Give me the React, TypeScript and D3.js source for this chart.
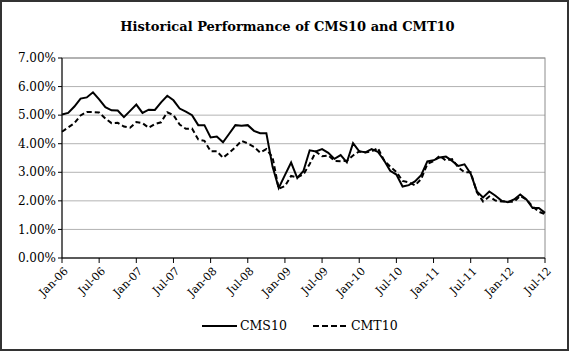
import * as d3 from "d3";
import React, { useEffect } from "react";

// monthly values, Jan-06 .. Jul-12 (percent)
const cms10 = [
  5.02, 5.08, 5.3, 5.58, 5.62, 5.8, 5.55, 5.28, 5.17, 5.16, 4.93, 5.15,
  5.37, 5.08, 5.19, 5.18, 5.45, 5.68, 5.52, 5.23, 5.12, 5.0, 4.65, 4.65,
  4.22, 4.25, 4.05, 4.35, 4.65, 4.63, 4.65, 4.45, 4.37, 4.37, 3.2, 2.45,
  2.9, 3.34, 2.8, 3.05, 3.77, 3.73, 3.81, 3.68, 3.47, 3.6, 3.35, 4.02,
  3.73, 3.7, 3.81, 3.72, 3.42, 3.05, 2.92, 2.5, 2.55, 2.68, 2.9, 3.38,
  3.42, 3.52, 3.55, 3.4, 3.22, 3.28, 2.95, 2.33, 2.12, 2.33, 2.18, 2.0,
  1.95, 2.05, 2.22, 2.05, 1.75, 1.75, 1.58,
];
const cmt10 = [
  4.42, 4.57, 4.72, 4.99, 5.11, 5.11, 5.09, 4.88, 4.72, 4.73, 4.6, 4.56,
  4.76, 4.72, 4.56, 4.69, 4.75, 5.1, 5.0, 4.67, 4.52, 4.53, 4.15, 4.1,
  3.74, 3.74, 3.51, 3.68, 3.88, 4.1, 4.01, 3.89, 3.69, 3.81, 3.53, 2.42,
  2.52, 2.87, 2.82, 2.93, 3.29, 3.72, 3.56, 3.59, 3.4, 3.39, 3.4, 3.59,
  3.73, 3.69, 3.73, 3.85, 3.42, 3.2, 3.01, 2.7, 2.65, 2.54, 2.76, 3.29,
  3.39, 3.58, 3.41, 3.46, 3.17, 3.0, 3.0, 2.3, 1.98, 2.15, 2.01, 1.98,
  1.97, 1.97, 2.17, 2.05, 1.8, 1.62, 1.53,
];
const xTickLabels = [
  "Jan-06", "Jul-06", "Jan-07", "Jul-07", "Jan-08", "Jul-08", "Jan-09",
  "Jul-09", "Jan-10", "Jul-10", "Jan-11", "Jul-11", "Jan-12", "Jul-12",
];
const yTicks = [0, 1, 2, 3, 4, 5, 6, 7];

const width = 569;
const height = 351;
const margin = { top: 58, right: 24, bottom: 93, left: 62 };
const font = "'DejaVu Serif', serif";

const App = () => {
  useEffect(() => {
    document.body.style.margin = "0";
  }, []);

  const innerWidth = width - margin.left - margin.right;
  const innerHeight = height - margin.top - margin.bottom;

  const x = d3.scaleLinear().domain([0, cms10.length - 1]).range([0, innerWidth]);
  const y = d3.scaleLinear().domain([0, 7]).range([innerHeight, 0]);

  const line = d3
    .line<number>()
    .x((d, i) => x(i))
    .y((d) => y(d));

  return (
    <svg width={width} height={height} style={{ display: "block", background: "#fff" }}>
      <rect x={1} y={1} width={width - 2} height={height - 2} fill="#fff" stroke="#333" strokeWidth={2} />
      <text
        x={width / 2 + 3}
        y={31}
        textAnchor="middle"
        fontFamily={font}
        fontWeight="bold"
        fontSize={13}
      >
        Historical Performance of CMS10 and CMT10
      </text>
      <g transform={`translate(${margin.left},${margin.top})`}>
        {/* grid */}
        {yTicks.map((t) => (
          <line key={t} x1={0} x2={innerWidth} y1={y(t)} y2={y(t)} stroke="#b3b3b3" strokeWidth={1} />
        ))}
        <rect x={0} y={0} width={innerWidth} height={innerHeight} fill="none" stroke="#8c8c8c" strokeWidth={1} />
        {/* y axis */}
        <line x1={0} x2={0} y1={0} y2={innerHeight} stroke="#000" />
        {yTicks.map((t) => (
          <g key={t}>
            <line x1={-4} x2={0} y1={y(t)} y2={y(t)} stroke="#000" />
            <text x={-6} y={y(t)} dy="0.35em" textAnchor="end" fontFamily={font} fontSize={12}>
              {t.toFixed(2)}%
            </text>
          </g>
        ))}
        {/* x axis */}
        <line x1={0} x2={innerWidth} y1={innerHeight} y2={innerHeight} stroke="#000" />
        {xTickLabels.map((lab, k) => (
          <g key={lab} transform={`translate(${x(k * 6)},${innerHeight})`}>
            <line y1={0} y2={5} stroke="#000" />
            <text
              transform="translate(4,11) rotate(-45)"
              textAnchor="end"
              fontFamily={font}
              fontSize={11}
              dy="0.35em"
            >
              {lab}
            </text>
          </g>
        ))}
        <path d={line(cmt10) || ""} fill="none" stroke="#000" strokeWidth={2} strokeDasharray="5,3" />
        <path d={line(cms10) || ""} fill="none" stroke="#000" strokeWidth={2} />
      </g>
      {/* legend */}
      <g transform="translate(0,326)">
        <line x1={202} x2={237} y1={0} y2={0} stroke="#000" strokeWidth={2} />
        <text x={240} y={0} dy="0.35em" fontFamily={font} fontSize={12.5}>CMS10</text>
        <line x1={313} x2={349} y1={0} y2={0} stroke="#000" strokeWidth={2} strokeDasharray="6,3" />
        <text x={351} y={0} dy="0.35em" fontFamily={font} fontSize={12.5}>CMT10</text>
      </g>
    </svg>
  );
};

export default App;
